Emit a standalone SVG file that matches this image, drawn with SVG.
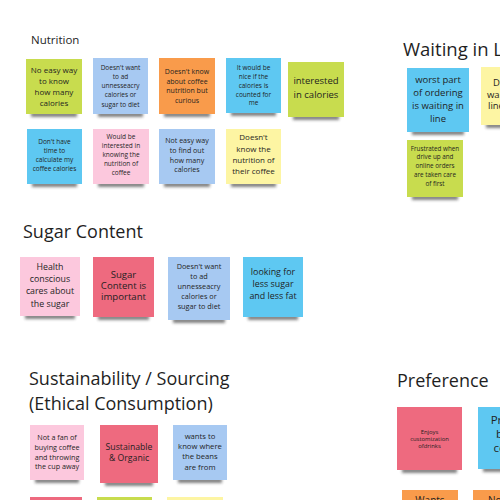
<svg xmlns="http://www.w3.org/2000/svg" width="500" height="500" viewBox="0 0 500 500">
<defs>
<filter id="sh" x="-30%" y="-200%" width="160%" height="500%"><feGaussianBlur stdDeviation="1.8"/></filter>
</defs>
<style>
.bg{fill:#ffffff}
.title{font-family:"Open Sans","Noto Sans",sans-serif;fill:#1f1f1f}
.t{font-family:"Open Sans","Noto Sans",sans-serif;fill:#1f1f1f;text-anchor:middle}
.ts{font-family:"Open Sans","Noto Sans",sans-serif;fill:#1f1f1f}
.shd{fill:#2e2e2e;opacity:0.6;filter:url(#sh)}
.gr{fill:#c8dc4e}
.lb{fill:#a7c9f2}
.or{fill:#f99b4b}
.cy{fill:#5ec8f2}
.pk{fill:#fcc8dd}
.ye{fill:#fdf5a3}
.rd{fill:#ee6a7f}
</style>
<rect class="bg" x="0" y="0" width="500" height="500"/>
<g id="connectors"></g>

<!-- Titles -->
<g id="title-nutrition"><text class="title" x="31" y="44" font-size="11.5">Nutrition</text></g>
<g id="title-waiting"><text class="title" x="403" y="56" font-size="18.5">Waiting in Line</text></g>
<g id="title-sugar"><text class="title" x="23" y="238" font-size="18">Sugar Content</text></g>
<g id="title-sustain"><text class="title" x="29" y="385" font-size="18">Sustainability / Sourcing</text><text class="title" x="29" y="410" font-size="18">(Ethical Consumption)</text></g>
<g id="title-preference"><text class="title" x="397" y="387" font-size="18">Preference</text></g>

<!-- Nutrition row 1 -->
<g id="n1"><rect class="shd" x="31" y="112" width="46" height="5"/><rect class="gr" x="26" y="59" width="56" height="55"/>
<text class="t" font-size="8"><tspan x="54" y="73.2">No easy way</tspan><tspan x="54" y="84">to know</tspan><tspan x="54" y="94.8">how many</tspan><tspan x="54" y="105.6">calories</tspan></text></g>
<g id="n2"><rect class="shd" x="98" y="112" width="45" height="5"/><rect class="lb" x="93" y="58" width="55" height="56"/>
<text class="t" font-size="6.5"><tspan x="120.5" y="70.1">Doesn't want</tspan><tspan x="120.5" y="79.2">to ad</tspan><tspan x="120.5" y="88.3">unnesseacry</tspan><tspan x="120.5" y="97.4">calories or</tspan><tspan x="120.5" y="106.5">sugar to diet</tspan></text></g>
<g id="n3"><rect class="shd" x="164" y="112" width="46" height="5"/><rect class="or" x="159" y="58" width="56" height="56"/>
<text class="t" font-size="7"><tspan x="187" y="74">Doesn't know</tspan><tspan x="187" y="83.7">about coffee</tspan><tspan x="187" y="93.4">nutrition but</tspan><tspan x="187" y="103">curious</tspan></text></g>
<g id="n4"><rect class="shd" x="231" y="111" width="45" height="5"/><rect class="cy" x="226" y="58" width="55" height="55"/>
<text class="t" font-size="6.5"><tspan x="253.5" y="70.3">It would be</tspan><tspan x="253.5" y="79.1">nice if the</tspan><tspan x="253.5" y="87.8">calories is</tspan><tspan x="253.5" y="96.6">counted for</tspan><tspan x="253.5" y="105.3">me</tspan></text></g>
<g id="n5"><rect class="shd" x="293" y="115" width="46" height="5"/><rect class="gr" x="288" y="62" width="56" height="55"/>
<text class="t" font-size="9.5"><tspan x="316" y="84.4">interested</tspan><tspan x="316" y="98.4">in calories</tspan></text></g>

<!-- Nutrition row 2 -->
<g id="n6"><rect class="shd" x="32" y="182" width="45" height="5"/><rect class="cy" x="27" y="129" width="55" height="55"/>
<text class="t" font-size="6.5"><tspan x="54.5" y="144">Don't have</tspan><tspan x="54.5" y="152.9">time to</tspan><tspan x="54.5" y="161.8">calculate my</tspan><tspan x="54.5" y="170.7">coffee calories</tspan></text></g>
<g id="n7"><rect class="shd" x="98" y="182" width="46" height="5"/><rect class="pk" x="93" y="129" width="56" height="55"/>
<text class="t" font-size="6.5"><tspan x="121" y="139">Would be</tspan><tspan x="121" y="147.9">interested in</tspan><tspan x="121" y="156.8">knowing the</tspan><tspan x="121" y="165.7">nutrition of</tspan><tspan x="121" y="174.6">coffee</tspan></text></g>
<g id="n8"><rect class="shd" x="164" y="182" width="46" height="5"/><rect class="lb" x="159" y="129" width="56" height="55"/>
<text class="t" font-size="7.1"><tspan x="187" y="143">Not easy way</tspan><tspan x="187" y="152.8">to find out</tspan><tspan x="187" y="162.6">how many</tspan><tspan x="187" y="172.4">calories</tspan></text></g>
<g id="n9"><rect class="shd" x="231" y="182" width="45" height="5"/><rect class="ye" x="226" y="129" width="55" height="55"/>
<text class="t" font-size="8"><tspan x="253.5" y="140.4">Doesn't</tspan><tspan x="253.5" y="151.7">know the</tspan><tspan x="253.5" y="163">nutrition of</tspan><tspan x="253.5" y="174.3">their coffee</tspan></text></g>

<!-- Waiting in Line -->
<g id="w1"><rect class="shd" x="412" y="130" width="52" height="5"/><rect class="cy" x="407" y="68" width="62" height="64"/>
<text class="t" font-size="9.5"><tspan x="438" y="82.7">worst part</tspan><tspan x="438" y="95.7">of ordering</tspan><tspan x="438" y="108.7">is waiting in</tspan><tspan x="438" y="121.7">line</tspan></text></g>
<g id="w2"><rect class="shd" x="486" y="123" width="52" height="5"/><rect class="ye" x="481" y="67" width="62" height="58"/>
<text class="ts" font-size="9.5"><tspan x="493" y="86">Doesn't like</tspan><tspan x="487" y="97.5">waiting in</tspan><tspan x="488" y="109">line</tspan></text></g>
<g id="w3"><rect class="shd" x="412" y="195" width="46" height="5"/><rect class="gr" x="407" y="140" width="56" height="57"/>
<text class="t" font-size="6.3"><tspan x="435" y="150.7">Frustrated when</tspan><tspan x="435" y="159.4">drive up and</tspan><tspan x="435" y="168.1">online orders</tspan><tspan x="435" y="176.8">are taken care</tspan><tspan x="435" y="185.5">of first</tspan></text></g>

<!-- Sugar Content -->
<g id="s1"><rect class="shd" x="25" y="314" width="50" height="5"/><rect class="pk" x="20" y="257" width="60" height="59"/>
<text class="t" font-size="8.8"><tspan x="50" y="269.9">Health</tspan><tspan x="50" y="282.1">conscious</tspan><tspan x="50" y="294.3">cares about</tspan><tspan x="50" y="306.5">the sugar</tspan></text></g>
<g id="s2"><rect class="shd" x="98" y="315" width="51" height="5"/><rect class="rd" x="93" y="257" width="61" height="60"/>
<text class="t" font-size="9.6"><tspan x="123.5" y="277.5">Sugar</tspan><tspan x="123.5" y="288.5">Content is</tspan><tspan x="123.5" y="299.5">important</tspan></text></g>
<g id="s3"><rect class="shd" x="173" y="318" width="52" height="5"/><rect class="lb" x="168" y="257" width="62" height="63"/>
<text class="t" font-size="7.3"><tspan x="199" y="269.3">Doesn't want</tspan><tspan x="199" y="279.1">to ad</tspan><tspan x="199" y="288.9">unnesseacry</tspan><tspan x="199" y="298.7">calories or</tspan><tspan x="199" y="308.5">sugar to diet</tspan></text></g>
<g id="s4"><rect class="shd" x="248" y="315" width="50" height="5"/><rect class="cy" x="243" y="257" width="60" height="60"/>
<text class="t" font-size="8.9"><tspan x="273" y="275">looking for</tspan><tspan x="273" y="287.2">less sugar</tspan><tspan x="273" y="299.4">and less fat</tspan></text></g>

<!-- Sustainability -->
<g id="e1"><rect class="shd" x="35" y="478" width="44" height="5"/><rect class="pk" x="30" y="425" width="54" height="55"/>
<text class="t" font-size="7.2"><tspan x="57" y="439.9">Not a fan of</tspan><tspan x="57" y="449.7">buying coffee</tspan><tspan x="57" y="459.5">and throwing</tspan><tspan x="57" y="469.3">the cup away</tspan></text></g>
<g id="e2"><rect class="shd" x="105" y="481" width="48" height="5"/><rect class="rd" x="100" y="425" width="58" height="58"/>
<text class="t" font-size="8.7"><tspan x="129" y="450.4">Sustainable</tspan><tspan x="129" y="461.4">&amp; Organic</tspan></text></g>
<g id="e3"><rect class="shd" x="178" y="478" width="44" height="5"/><rect class="lb" x="173" y="425" width="54" height="55"/>
<text class="t" font-size="7.7"><tspan x="200" y="439">wants to</tspan><tspan x="200" y="449.2">know where</tspan><tspan x="200" y="459.4">the beans</tspan><tspan x="200" y="469.6">are from</tspan></text></g>
<g id="e4"><rect class="rd" x="30" y="497" width="52" height="55"/></g>
<g id="e5"><rect class="gr" x="97" y="497" width="55" height="55"/></g>
<g id="e6"><rect class="ye" x="167" y="497" width="56" height="55"/></g>

<!-- Preference -->
<g id="p1"><rect class="shd" x="402" y="468" width="55" height="5"/><rect class="rd" x="397" y="407" width="65" height="63"/>
<text class="t" font-size="5.9"><tspan x="429.5" y="434.3">Enjoys</tspan><tspan x="429.5" y="441.3">customization</tspan><tspan x="429.5" y="448.3">ofdrinks</tspan></text></g>
<g id="p2"><rect class="shd" x="483" y="467" width="52" height="5"/><rect class="cy" x="478" y="407" width="64" height="62"/>
<text class="t" font-size="11.5"><tspan x="510" y="424.1">Prefers</tspan><tspan x="510" y="438.1">black</tspan><tspan x="510" y="452.1">coffee</tspan></text></g>
<g id="p3"><rect class="or" x="402" y="490" width="56" height="56"/>
<text class="t" font-size="10"><tspan x="430" y="503.5">Wants</tspan></text></g>
<g id="p4"><rect class="or" x="473" y="490" width="56" height="56"/>
<text class="ts" font-size="10"><tspan x="488" y="503.5">Not</tspan></text></g>
</svg>
